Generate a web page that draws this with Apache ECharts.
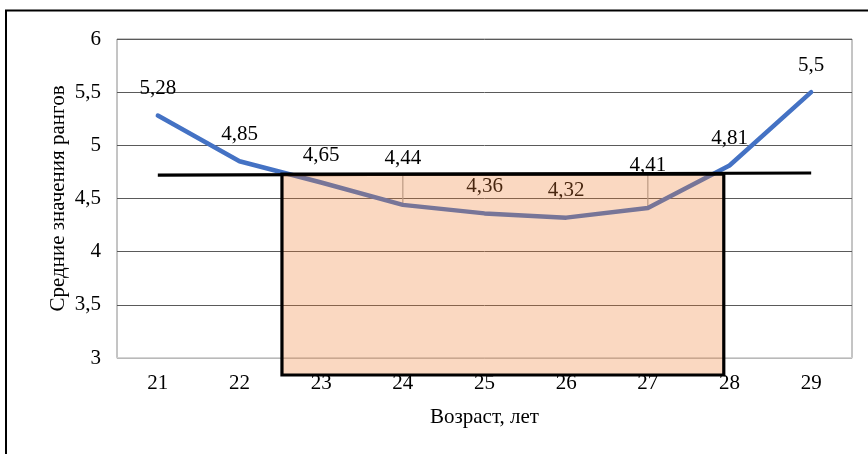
<!DOCTYPE html>
<html>
<head>
<meta charset="utf-8">
<script src="https://cdn.jsdelivr.net/npm/echarts@6/dist/echarts.min.js"></script>
<style>
  html, body { margin: 0; padding: 0; background: #fff; }
  #chart { width: 868px; height: 454px; }
</style>
</head>
<body>
<div id="chart"></div>
<script>
// Ages on the category axis
const ages = ['21', '22', '23', '24', '25', '26', '27', '28', '29'];
// Mean rank values per age
const meanRanks = [5.28, 4.85, 4.65, 4.44, 4.36, 4.32, 4.41, 4.81, 5.5];
// Overall mean level drawn as a horizontal line (age, value)
const levelLine = [[21, 4.72], [29, 4.74]];
// Highlighted age band (age range and value range)
const bandAges = [22.52, 27.93];
const bandValues = [2.84, 4.73];
// Ages whose labels are lifted with leader lines
const leaderAges = [24, 27];
// Y-axis ticks
const yMin = 3, yMax = 6, yStep = 0.5;

const FONT = "'Liberation Serif', 'Times New Roman', serif";
const FS = 21;
const fmt = v => String(v).replace('.', ',');

const lifted = { '24': 35, '27': 32 };
const lineData = meanRanks.map((v, i) => ({
  value: v,
  label: { distance: lifted[ages[i]] || 16 }
}));

const leaderData = leaderAges.map(a => [a, meanRanks[ages.indexOf(String(a))], levelLine[0][1]]);

const chart = echarts.init(document.getElementById('chart'), null, { renderer: 'canvas' });
chart.setOption({
  backgroundColor: '#fff',
  animation: false,
  grid: { left: 117, right: 16, top: 39, bottom: 96, show: true, borderColor: '#8a8a8a', borderWidth: 1 },
  xAxis: [{
    type: 'category',
    data: ages,
    boundaryGap: true,
    name: 'Возраст, лет',
    nameLocation: 'middle',
    nameGap: 49,
    nameTextStyle: { fontFamily: FONT, fontSize: FS, color: '#000' },
    axisLine: { lineStyle: { color: '#d9d9d9', width: 1.5 } },
    axisTick: { show: false },
    axisLabel: { fontFamily: FONT, fontSize: FS, color: '#000', margin: 15 }
  }, {
    type: 'value',
    min: 20.5,
    max: 29.5,
    show: false
  }],
  yAxis: {
    type: 'value',
    min: yMin,
    max: yMax,
    interval: yStep,
    name: 'Средние значения рангов',
    nameLocation: 'middle',
    nameGap: 48,
    nameMoveOverlap: false,
    nameTextStyle: { fontFamily: FONT, fontSize: FS, color: '#000' },
    axisLine: { show: false },
    axisTick: { show: false },
    splitLine: { lineStyle: { color: '#5a5a5a', width: 1 } },
    axisLabel: { fontFamily: FONT, fontSize: FS, color: '#000', margin: 16, formatter: fmt }
  },
  series: [
    {
      // leader lines from lifted labels down to their points
      type: 'custom',
      xAxisIndex: 1,
      z: 1,
      data: leaderData,
      renderItem: (params, api) => {
        const p1 = api.coord([api.value(0), api.value(1)]);
        const p2 = api.coord([api.value(0), api.value(2)]);
        return { type: 'line', shape: { x1: p1[0], y1: p1[1], x2: p2[0], y2: p2[1] },
                 style: { stroke: '#a6a6a6', lineWidth: 1.2 } };
      }
    },
    {
      type: 'line',
      z: 2,
      data: lineData,
      symbol: 'circle',
      symbolSize: 1,
      showSymbol: true,
      itemStyle: { color: 'rgba(0,0,0,0)' },
      lineStyle: { color: '#4472c4', width: 4.5, cap: 'round', join: 'round' },
      label: { show: true, position: 'top', fontFamily: FONT, fontSize: FS, color: '#000', formatter: p => fmt(p.value) }
    },
    {
      type: 'line',
      xAxisIndex: 1,
      z: 3,
      data: levelLine,
      symbol: 'none',
      lineStyle: { color: '#000', width: 3.2 }
    },
    {
      // translucent age band drawn over the line and its labels
      type: 'custom',
      xAxisIndex: 1,
      z: 10,
      clip: false,
      data: [[bandAges[0], bandValues[0], bandAges[1], bandValues[1]]],
      renderItem: (params, api) => {
        const a = api.coord([api.value(0), api.value(1)]);
        const b = api.coord([api.value(2), api.value(3)]);
        return { type: 'rect',
                 shape: { x: a[0], y: b[1], width: b[0] - a[0], height: a[1] - b[1] },
                 style: { fill: 'rgba(237,125,49,0.3)', stroke: '#000', lineWidth: 3.2 } };
      }
    }
  ],
  graphic: [{
    type: 'polyline',
    shape: { points: [[6, 454], [6, 10.5], [868, 10.5]] },
    style: { stroke: '#000', lineWidth: 2, fill: null }
  }]
});
</script>
</body>
</html>
